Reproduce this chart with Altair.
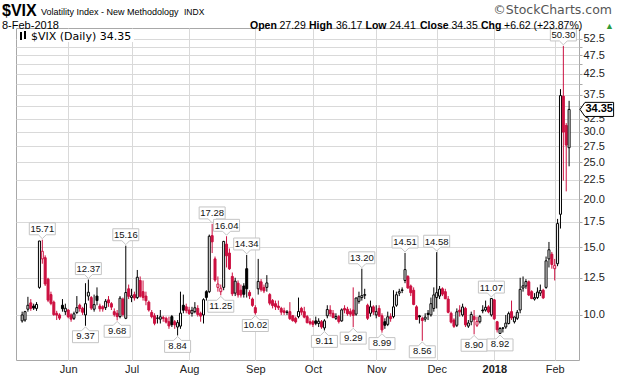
import altair as alt
import pandas as pd

# ---------------- data ----------------
holidays = ["2017-05-29", "2017-07-04", "2017-09-04", "2017-11-23",
            "2017-12-25", "2018-01-01", "2018-01-15"]

open_ = [9.65, 9.7, 10.35, 10.75, 10.55, 10.4, 11.8, 14.0, 14.1, 12.4,
         11.3, 10.8, 10.1, 10.0, 10.6, 10.2, 10.3, 10.0, 9.8, 10.15,
         10.6, 10.4, 10.0, 11.2, 11.1, 10.35, 11.2, 10.55, 10.5, 10.45,
         10.95, 10.7, 10.2, 10.1, 9.9, 11.0, 9.8, 11.7, 11.1, 11.3,
         11.1, 12.3, 11.5, 11.2, 10.8, 10.15, 9.95, 9.8, 9.75, 9.85,
         9.8, 9.6, 9.9, 9.6, 9.3, 9.35, 10.6, 10.5, 10.3, 10.1,
         10.2, 10.4, 10.1, 10.0, 11.5, 11.5, 16.1, 14.0, 11.8, 11.5,
         11.8, 15.3, 14.5, 12.6, 11.4, 12.1, 11.6, 11.9, 13.2, 11.45,
         11.0, 10.45, 11.7, 12.2, 11.8, 11.8, 11.3, 10.9, 10.7, 10.55,
         10.4, 10.25, 10.15, 10.2, 9.95, 9.8, 9.9, 10.4, 10.2, 9.9,
         9.6, 9.6, 9.65, 9.5, 9.6, 9.25, 9.95, 10.3, 10.1, 9.8,
         9.9, 9.65, 10.4, 10.35, 10.2, 10.3, 10.05, 10.85, 11.1, 11.25,
         10.6, 10.1, 10.5, 10.0, 10.4, 9.95, 9.6, 9.45, 9.9, 9.9,
         10.6, 11.4, 11.62, 12.3, 12.6, 11.9, 11.6, 10.5, 9.95, 9.8,
         9.75, 10.1, 10.0, 10.4, 11.1, 11.2, 11.7, 11.5, 11.0, 10.1,
         9.7, 9.4, 10.3, 10.0, 10.4, 9.35, 9.6, 9.9, 9.4, 9.6,
         10.3, 10.3, 10.5, 10.0, 10.95, 9.6, 8.95, 9.25, 9.3, 9.5,
         10.2, 9.6, 9.8, 10.3, 11.75, 11.9, 12.2, 11.5, 11.0, 11.1,
         11.4, 11.6, 11.8, 14.0, 14.4, 13.2, 13.6, 18.3, 37.2, 31.2,
         27.29]

high = [10.2, 10.25, 11.15, 11.0, 10.7, 10.8, 15.6, 15.71, 14.3, 12.5,
        11.5, 10.9, 10.25, 10.1, 11.0, 10.7, 10.35, 10.1, 10.2, 11.2,
        10.7, 10.5, 12.1, 12.37, 11.2, 11.3, 11.8, 10.7, 10.6, 11.0,
        11.2, 10.8, 10.4, 10.3, 11.2, 11.1, 15.16, 12.0, 11.7, 11.5,
        13.1, 12.6, 12.3, 11.5, 10.9, 10.3, 10.1, 10.0, 10.3, 9.95,
        9.9, 9.9, 10.0, 9.7, 9.7, 11.5, 11.3, 10.7, 10.5, 10.5,
        10.8, 10.6, 10.2, 11.05, 11.6, 16.2, 17.28, 14.2, 12.6, 12.0,
        15.6, 16.04, 14.9, 12.9, 12.5, 12.3, 12.0, 12.1, 14.34, 11.6,
        11.1, 10.6, 14.0, 12.4, 12.0, 12.7, 11.4, 11.0, 10.9, 10.9,
        10.5, 10.45, 10.3, 10.8, 10.0, 9.9, 11.1, 10.5, 10.5, 10.0,
        9.8, 9.7, 9.9, 9.8, 9.7, 9.75, 10.6, 10.6, 10.3, 10.1,
        10.0, 10.4, 10.6, 10.5, 10.4, 11.8, 11.1, 11.5, 13.20, 11.7,
        10.7, 10.9, 10.6, 10.6, 10.6, 10.1, 9.8, 10.2, 10.1, 11.6,
        11.5, 11.7, 11.8, 14.51, 12.7, 12.0, 11.8, 10.6, 10.0, 9.9,
        10.1, 10.3, 11.1, 11.8, 14.58, 11.9, 11.8, 11.7, 11.2, 10.2,
        9.8, 10.4, 10.6, 10.7, 10.5, 9.7, 10.2, 10.3, 9.9, 10.0,
        10.6, 10.9, 10.6, 11.07, 11.0, 9.65, 9.3, 9.3, 10.0, 10.2,
        10.9, 9.9, 10.3, 12.5, 12.6, 12.4, 12.3, 11.6, 11.4, 11.8,
        12.0, 11.7, 14.2, 15.5, 14.6, 14.0, 17.8, 38.8, 50.30, 31.64,
        36.17]

low = [9.55, 9.6, 10.2, 10.25, 10.3, 10.25, 11.7, 13.6, 11.9, 10.8,
       10.6, 9.95, 9.7, 9.7, 10.2, 10.0, 9.8, 9.6, 9.7, 10.05,
       10.2, 10.0, 9.37, 10.9, 10.3, 10.2, 10.6, 10.2, 10.2, 10.3,
       10.5, 10.3, 9.9, 9.68, 9.8, 9.9, 9.75, 11.0, 10.8, 10.9,
       11.0, 11.1, 10.9, 10.6, 10.2, 9.8, 9.4, 9.5, 9.5, 9.6,
       9.5, 9.2, 9.3, 9.2, 8.84, 9.2, 10.1, 10.1, 10.0, 9.9,
       10.1, 9.9, 9.6, 9.5, 10.9, 11.4, 14.5, 12.2, 11.5, 11.25,
       11.6, 13.3, 13.1, 11.2, 11.2, 11.1, 11.1, 11.1, 11.1, 11.0,
       10.5, 10.02, 11.3, 11.5, 11.4, 11.5, 10.6, 10.4, 10.3, 10.3,
       10.0, 10.0, 10.0, 9.7, 9.6, 9.5, 9.8, 10.0, 9.8, 9.5,
       9.4, 9.3, 9.4, 9.3, 9.2, 9.11, 9.8, 9.9, 9.8, 9.7,
       9.5, 9.6, 10.1, 9.95, 9.9, 9.29, 9.95, 10.7, 10.9, 11.0,
       9.7, 9.9, 10.0, 9.8, 9.9, 8.99, 9.2, 9.35, 9.6, 9.8,
       10.5, 11.2, 11.4, 12.1, 11.7, 11.2, 10.6, 9.7, 9.5, 8.56,
       9.6, 9.7, 9.9, 10.2, 10.4, 11.0, 11.2, 11.0, 10.1, 9.5,
       9.25, 9.3, 9.9, 9.9, 9.3, 9.25, 9.4, 8.90, 9.3, 9.5,
       10.1, 10.2, 10.1, 9.9, 9.7, 9.0, 8.92, 9.0, 9.2, 9.45,
       9.7, 9.5, 9.7, 10.1, 11.5, 11.7, 11.2, 11.0, 10.9, 11.0,
       11.2, 11.0, 11.7, 13.3, 13.2, 12.3, 13.4, 16.8, 22.4, 21.0,
       24.41]

close = [10.0, 10.2, 10.6, 10.40, 10.42, 10.65, 15.59, 14.66, 12.04, 10.93,
         10.72, 10.02, 9.99, 9.81, 10.38, 10.41, 9.89, 9.75, 10.07, 10.45,
         10.39, 10.16, 10.70, 11.46, 10.42, 10.64, 10.90, 10.38, 10.37, 10.86,
         10.75, 10.48, 10.02, 9.90, 11.06, 10.03, 11.44, 11.18, 11.22, 11.07,
         12.54, 11.19, 11.11, 10.89, 10.30, 9.90, 9.51, 9.82, 9.89, 9.79,
         9.58, 9.36, 9.43, 9.42, 9.55, 10.11, 10.29, 10.26, 10.09, 10.28,
         10.44, 10.03, 9.93, 10.96, 11.11, 16.04, 15.51, 12.33, 12.04, 11.74,
         15.55, 14.26, 13.19, 11.35, 12.25, 11.28, 11.27, 11.32, 11.70, 11.22,
         10.59, 10.13, 12.23, 11.63, 11.55, 12.12, 10.73, 10.58, 10.50, 10.44,
         10.17, 10.15, 10.18, 9.78, 9.67, 9.59, 10.21, 10.17, 9.87, 9.55,
         9.51, 9.45, 9.51, 9.63, 9.30, 9.65, 10.33, 10.08, 9.85, 9.91,
         9.61, 10.31, 10.30, 10.07, 10.05, 9.97, 11.07, 11.16, 11.23, 11.30,
         9.80, 10.50, 10.18, 10.20, 9.93, 9.14, 9.40, 9.89, 9.78, 10.50,
         11.29, 11.50, 11.59, 13.13, 11.76, 11.43, 10.65, 9.73, 9.88, 9.67,
         9.87, 10.03, 10.70, 11.28, 11.43, 11.68, 11.33, 11.02, 10.16, 9.58,
         9.34, 10.19, 10.18, 10.49, 9.42, 9.53, 10.03, 9.72, 9.62, 9.90,
         10.25, 10.47, 10.18, 11.04, 9.77, 9.15, 9.22, 9.23, 9.52, 10.08,
         9.82, 9.88, 10.16, 11.66, 11.91, 12.22, 11.27, 11.03, 11.10, 11.47,
         11.58, 11.08, 13.84, 14.79, 13.54, 13.47, 17.31, 37.32, 29.98, 27.73,
         34.35]

hi_label_idx = [7, 23, 36, 66, 71, 78, 118, 133, 144, 163, 188]
lo_label_idx = [22, 33, 54, 69, 81, 105, 115, 125, 139, 157, 166]

month_labels = ["Jun", "Jul", "Aug", "Sep", "Oct", "Nov", "Dec", "2018", "Feb"]
y_ticks = [10.0, 12.5, 15.0, 17.5, 20.0, 22.5, 25.0, 27.5, 30.0, 32.5,
           35.0, 37.5, 40.0, 42.5, 45.0, 47.5, 50.0, 52.5]
hidden_tick = 35.0  # covered by the last-price tag in the reference

last_close = [34.35]
info_texts = ["Open", "27.29", "High", "36.17", "Low", "24.41",
              "Close", "34.35", "Chg", "+6.62 (+23.87%)"]

# ---------------- layout constants ----------------
W, H = 563, 332
PL, PT = 16, 28
RED = "#cc1040"
GRID = "#d9d9d9"
SANS = "Liberation Sans"

days = pd.bdate_range("2017-05-09", "2018-02-08")
days = days[~days.isin(pd.to_datetime(holidays))]
n = len(close)
days = days[:n]

df = pd.DataFrame({"i": list(range(n)), "date": days.strftime("%Y-%m-%d"),
                   "open": open_, "high": high, "low": low, "close": close})
prev = [open_[0]] + close[:-1]
df["edge"] = [RED if c < p else "#000000" for c, p in zip(close, prev)]
df["fillc"] = ["#ffffff" if c > o else e for c, o, e in zip(close, open_, df["edge"])]
df["bot"] = [min(o, c) for o, c in zip(open_, close)]
df["top"] = [max(o, c) for o, c in zip(open_, close)]

months = days.to_period("M")
month_idx = [i for i in range(1, n) if months[i] != months[i - 1]]

xscale = alt.Scale(domain=[-0.4, 191.7], nice=False, zero=False)
yscale = alt.Scale(type="log", domain=[7.63, 56.0], nice=False)

label_expr = "[" + ",".join("'%s'" % m for m in month_labels) + "][indexof([" + \
    ",".join(str(v) for v in month_idx) + "], datum.value)]"

xaxis = alt.Axis(values=month_idx, labelExpr=label_expr, title=None, grid=True,
                 gridColor=GRID, domain=False, ticks=False, labelPadding=3,
                 labelFont=SANS, labelFontSize=11, labelColor="#222",
                 labelFontWeight={"condition": {"test": "datum.value == %d" % month_idx[7],
                                                "value": "bold"}, "value": "normal"})
yaxis = alt.Axis(orient="right", values=y_ticks, title=None, grid=True,
                 labelExpr="datum.value == %g ? '' : format(datum.value, '.1f')" % hidden_tick,
                 gridColor=GRID, domain=False, tickSize=3, tickColor="#a8a8a8",
                 labelPadding=1, labelFont=SANS, labelFontSize=11, labelColor="#222")


def X(field):
    return alt.X(field, scale=xscale, axis=xaxis)


def Y(field):
    return alt.Y(field, scale=yscale, axis=yaxis)


base = alt.Chart(df).encode(x=X("i:Q"))

wicks = base.mark_rule(strokeWidth=1).encode(
    y=Y("low:Q"), y2="high:Q", color=alt.Color("edge:N", scale=None))

bodies = base.mark_bar(size=2, strokeWidth=1).encode(
    y=Y("bot:Q"), y2="top:Q",
    fill=alt.Fill("fillc:N", scale=None), stroke=alt.Stroke("edge:N", scale=None))

# ---- price labels on peaks and troughs ----
hi_df = pd.DataFrame({"i": hi_label_idx, "v": [high[k] for k in hi_label_idx]})
lo_df = pd.DataFrame({"i": lo_label_idx, "v": [low[k] for k in lo_label_idx]})

K = 13
SYM = (2 * K) ** 2
up_path = "M0,-0.08L-0.3,-0.38L-1,-0.38L-1,-1.3L1,-1.3L1,-0.38L0.3,-0.38Z"
dn_path = "M0,0.08L-0.3,0.38L-1,0.38L-1,1.3L1,1.3L1,0.38L0.3,0.38Z"


def tag_layer(data, path, dy):
    pts = alt.Chart(data).mark_point(shape=path, size=SYM, filled=True, fill="#ffffff",
                                     stroke="#c4c4c4", strokeWidth=1, opacity=1).encode(
        x=X("i:Q"), y=Y("v:Q"))
    txt = alt.Chart(data).mark_text(font=SANS, fontSize=9.5, color="#111", dy=dy,
                                    baseline="middle", align="center").encode(
        x=X("i:Q"), y=Y("v:Q"), text=alt.Text("v:Q", format=".2f"))
    return pts + txt


hi_tags = tag_layer(hi_df, up_path, -10.5)
lo_tags = tag_layer(lo_df, dn_path, 10.5)

# ---- last price tag on the right axis ----
lc_df = pd.DataFrame({"v": last_close})
PK = 16
tag_path = "M0,0L0.31,-0.44L2.1,-0.44L2.1,0.44L0.31,0.44Z"
last_tag = alt.Chart(lc_df).mark_point(shape=tag_path, size=(2 * PK) ** 2, filled=True,
                                        fill="#ffffff", stroke="#000000", strokeWidth=1,
                                        opacity=1).encode(
    x=alt.value(W + 1), y=Y("v:Q"))
last_txt = alt.Chart(lc_df).mark_text(font=SANS, fontSize=11, fontWeight="bold",
                                      baseline="middle", align="center", color="#000").encode(
    x=alt.value(W + 1 + 1.2 * PK), y=Y("v:Q"), text=alt.Text("v:Q", format=".2f"))


# ---- header and legend texts ----
def txt(text, x, y, size=11, weight="normal", font=SANS, align="left", color="#000"):
    return alt.Chart(pd.DataFrame({"t": [text]})).mark_text(
        align=align, baseline="alphabetic", font=font, fontSize=size,
        fontWeight=weight, color=color).encode(
        x=alt.value(x - PL), y=alt.value(y - PT), text="t:N")


header = [
    txt("$VIX", 2, 16, size=16, weight="bold"),
    txt("Volatility Index - New Methodology", 41, 15, size=9),
    txt("INDX", 184, 15, size=8.5),
    txt("\u00a9StockCharts.com", 612, 14, size=12.5, font="DejaVu Sans", align="right",
        color="#555"),
    txt("8-Feb-2018", 2, 29, size=11),
]
info_x = [250, 279.5, 309, 336, 365.5, 389.5, 420, 451.5, 481, 504]
for k, (t, x) in enumerate(zip(info_texts, info_x)):
    header.append(txt(t, x, 29, size=10.5, weight="bold" if k % 2 == 0 else "normal"))
header.append(txt("\u25b2", 605, 29, size=9, color="#2e9b3a"))

legend_box = alt.Chart(pd.DataFrame({"a": [0]})).mark_rect(fill="#ffffff").encode(
    x=alt.value(1), x2=alt.value(118), y=alt.value(1), y2=alt.value(14))
icon = alt.Chart(pd.DataFrame({"a": [0]})).mark_rect(fill="#000000").encode(
    x=alt.value(4), x2=alt.value(6), y=alt.value(4), y2=alt.value(12))
icon2 = alt.Chart(pd.DataFrame({"a": [0]})).mark_rect(fill="#000000").encode(
    x=alt.value(8), x2=alt.value(10), y=alt.value(3), y2=alt.value(11))
legend_txt = txt("$VIX (Daily) 34.35", 31, 40, size=11, font="DejaVu Sans")

chart = alt.layer(
    wicks, bodies, hi_tags, lo_tags, last_tag, last_txt,
    legend_box, icon, icon2, legend_txt, *header
).properties(
    width=W, height=H,
    autosize=alt.AutoSizeParams(type="none"),
    padding={"left": PL, "top": PT, "right": 620 - PL - W, "bottom": 376 - PT - H},
    background="#ffffff",
).configure_view(stroke="#a8a8a8", strokeWidth=1)

chart.save("out.html", embed_options={"renderer": "svg", "actions": False})
